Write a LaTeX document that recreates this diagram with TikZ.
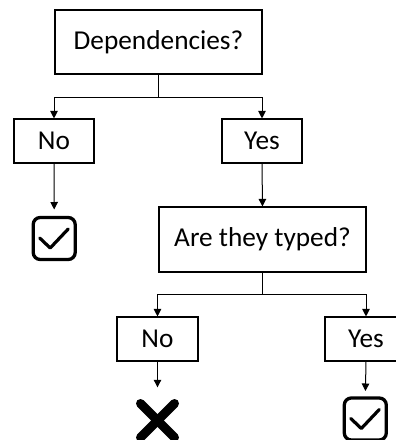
\documentclass[tikz,border=0pt]{standalone}
\usepackage{fontspec}
\setmainfont{Carlito}
\usetikzlibrary{arrows.meta}
\begin{document}
\begin{tikzpicture}[x=1pt,y=-1pt,
  box/.style={draw, line width=1.1pt, rectangle, inner sep=0pt, font=\fontsize{27.3}{32}\selectfont},
  conn/.style={line width=1pt},
  arr/.style={conn, -{Triangle[width=7.5pt,length=7.5pt]}},
  checkbox/.style={draw, line width=3.3pt, rounded corners=7pt, minimum width=42pt, minimum height=42pt, inner sep=0pt, outer sep=0pt},
  checkmark/.style={line width=3.2pt, line cap=round, line join=round},
  crossmark/.style={line width=9pt, line cap=round}]
\clip (0,0) rectangle (396,440);
\fill[white] (0,0) rectangle (396,440);
\node[box, minimum width=207pt, minimum height=64pt] (dep) at (158.5,42) {Dependencies?};
\node[box, minimum width=80pt, minimum height=44pt] (no1) at (54,141) {No};
\node[box, minimum width=80pt, minimum height=44pt] (yes1) at (262,141) {Yes};
\node[box, minimum width=207pt, minimum height=65pt] (typed) at (262.5,239.5) {Are they typed?};
\node[box, minimum width=81pt, minimum height=44pt] (no2) at (157.5,339) {No};
\node[box, minimum width=82pt, minimum height=44pt] (yes2) at (366,339) {Yes};
\node[checkbox] (check1) at (54.2,238.5) {};
\node[checkbox] (check2) at (365.3,419) {};
\node[minimum size=46pt, inner sep=0pt] (cross) at (157.5,420.5) {};
% check marks and cross
\draw[checkmark] ([shift={(-14.5,-0.5)}]check1.center) -- ++(10.5,10) -- ++(18,-19);
\draw[checkmark] ([shift={(-14.5,-0.5)}]check2.center) -- ++(10.5,10) -- ++(18,-19);
\draw[crossmark] ([shift={(-17,-17)}]cross.center) -- ([shift={(17,17)}]cross.center);
\draw[crossmark] ([shift={(17,-17)}]cross.center) -- ([shift={(-17,17)}]cross.center);
% connectors
\coordinate (j1) at (158.5,97);
\coordinate (j2) at (262.5,294);
\draw[conn] (dep.south) -- (j1);
\draw[arr] (j1) -| (no1.north);
\draw[arr] (j1) -| (yes1.north);
\draw[arr, shorten >=8pt] (no1.south) -- (check1.north);
\draw[arr] (yes1.south) -- (typed.north);
\draw[conn] (typed.south) -- (j2);
\draw[arr] (j2) -| (no2.north);
\draw[arr] (j2) -| (yes2.north);
\draw[arr, shorten >=10pt] (no2.south) -- (cross.north);
\draw[arr, shorten >=7pt] (yes2.south) -- (check2.north);
\end{tikzpicture}
\end{document}
